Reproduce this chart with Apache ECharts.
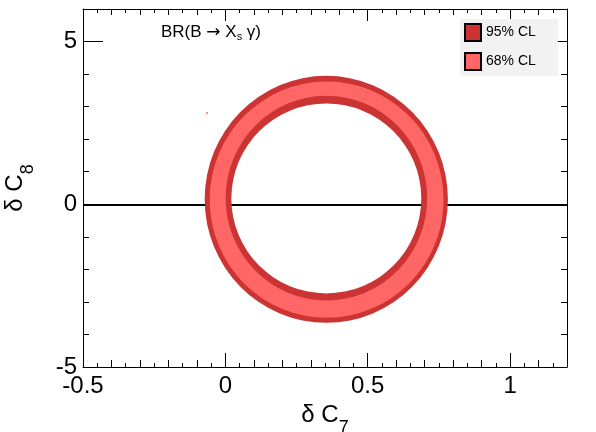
<!DOCTYPE html>
<html>
<head>
<meta charset="utf-8">
<script src="https://cdn.jsdelivr.net/npm/echarts@6/dist/echarts.min.js"></script>
<style>html,body{margin:0;padding:0;background:#fff}#c{width:596px;height:432px}</style>
</head>
<body>
<div id="c"></div>
<script>
// ---- data ----
const clLevels = ['95% CL', '68% CL'];
// outer boundary ellipse of each CL region (centre and half-axes, data units)
const outerCX = [0.3545, 0.3557];
const outerCY = [0.152, 0.142];
const outerRX = [0.4272, 0.4108];
const outerRY = [3.795, 3.631];
// inner boundary ellipse of each CL region
const innerCX = [0.3546, 0.3550];
const innerCY = [0.179, 0.189];
const innerRX = [0.3336, 0.3540];
const innerRY = [2.917, 3.143];
// isolated stray point
const strayX = [-0.0646];
const strayY = [2.80];
// reference line
const refLineY = [0];
// tick labels
const xTickLabels = [-0.5, 0, 0.5, 1];
const yTickLabels = [-5, 0, 5];

const FONT = "'Liberation Sans', Arial, Helvetica, sans-serif";
const chart = echarts.init(document.getElementById('c'), null, {renderer: 'canvas'});

function ringItem(params, api) {
  const c1 = api.coord([api.value(0), api.value(1)]);
  const s1 = api.size([api.value(2), api.value(3)]);
  const c2 = api.coord([api.value(4), api.value(5)]);
  const s2 = api.size([api.value(6), api.value(7)]);
  const ell = (c, s, sweep) => {
    const rx = s[0], ry = s[1];
    return 'M' + (c[0] - rx) + ' ' + c[1] +
      'A' + rx + ' ' + ry + ' 0 1 ' + sweep + ' ' + (c[0] + rx) + ' ' + c[1] +
      'A' + rx + ' ' + ry + ' 0 1 ' + sweep + ' ' + (c[0] - rx) + ' ' + c[1] + 'Z';
  };
  return {
    type: 'path',
    shape: {pathData: ell(c1, s1, 1) + ell(c2, s2, 0)},
    style: {fill: api.visual('color')}
  };
}

const ringData = clLevels.map((n, i) => [[outerCX[i], outerCY[i], outerRX[i], outerRY[i], innerCX[i], innerCY[i], innerRX[i], innerRY[i]]]);
const bandColors = ['#cc3333', '#ff6666'];

function near(v, arr) { return arr.some(a => Math.abs(a - v) < 1e-9); }

function xAx(pos, interval, len, main) {
  return {
    type: 'value', position: pos, min: -0.5, max: 1.2, interval: interval,
    axisLine: {show: main, onZero: false, lineStyle: {color: '#000', width: 1}},
    axisTick: {show: true, inside: true, length: len, lineStyle: {color: '#000', width: 1}},
    axisLabel: {show: main && pos === 'bottom', fontSize: 24, color: '#000', fontFamily: FONT, margin: 7,
      showMinLabel: true, showMaxLabel: true,
      formatter: v => near(v, xTickLabels) ? String(v) : ''},
    splitLine: {show: false},
    name: (main && pos === 'bottom') ? '{a|δ C}{s|7}' : '',
    nameLocation: 'middle', nameGap: 23,
    nameTextStyle: {rich: {
      a: {fontSize: 24, fontFamily: FONT, color: '#000', lineHeight: 44, verticalAlign: 'middle'},
      s: {fontSize: 18, fontFamily: FONT, color: '#000', lineHeight: 18, verticalAlign: 'bottom'}
    }}
  };
}
function yAx(pos, interval, len, main) {
  return {
    type: 'value', position: pos, min: -5, max: 6, interval: interval,
    axisLine: {show: main, onZero: false, lineStyle: {color: '#000', width: 1}},
    axisTick: {show: true, inside: true, length: len, lineStyle: {color: '#000', width: 1}},
    axisLabel: {show: main && pos === 'left', fontSize: 24, color: '#000', fontFamily: FONT, margin: 6,
      padding: [11, 0, 0, 0],
      showMinLabel: true, showMaxLabel: true,
      formatter: v => near(v, yTickLabels) ? String(v) : ''},
    splitLine: {show: false},
    name: (main && pos === 'left') ? '{a|δ C}{s|8}' : '',
    nameLocation: 'middle', nameGap: 46, nameRotate: 90,
    nameTextStyle: {rich: {
      a: {fontSize: 24, fontFamily: FONT, color: '#000', lineHeight: 44, verticalAlign: 'middle'},
      s: {fontSize: 18, fontFamily: FONT, color: '#000', lineHeight: 18, verticalAlign: 'bottom'}
    }}
  };
}

const option = {
  animation: false,
  backgroundColor: '#fff',
  grid: {left: 83, right: 29, top: 9, bottom: 65, containLabel: false, outerBoundsMode: 'none'},
  title: {
    text: '{n|BR(B }{r|→}{n| X}{s|s}{n| γ)}',
    left: 161, top: 23, padding: 0,
    textStyle: {fontWeight: 'normal', rich: {
      n: {fontSize: 17, fontFamily: FONT, fontWeight: 'normal', color: '#000', lineHeight: 19, verticalAlign: 'middle'},
      r: {fontSize: 17, fontFamily: "'DejaVu Sans', sans-serif", fontWeight: 'normal', color: '#000', lineHeight: 19, verticalAlign: 'middle'},
      s: {fontSize: 11, fontFamily: FONT, fontWeight: 'normal', color: '#000', lineHeight: 11, verticalAlign: 'bottom'}
    }}
  },
  legend: {
    data: clLevels, orient: 'vertical', left: 460, top: 19,
    itemWidth: 16, itemHeight: 17, itemGap: 10,
    padding: [4, 22, 5, 4], backgroundColor: '#f2f2f2',
    icon: 'rect', selectedMode: false,
    itemStyle: {borderColor: '#000', borderWidth: 2},
    textStyle: {fontSize: 14, color: '#000', fontFamily: FONT}
  },
  xAxis: [
    xAx('bottom', 0.5, 14, true), xAx('bottom', 0.1, 7, false), xAx('bottom', 0.05, 4, false),
    xAx('top', 0.5, 12, true), xAx('top', 0.1, 6, false), xAx('top', 0.05, 4, false)
  ],
  yAxis: [
    yAx('left', 5, 20, true), yAx('left', 1, 6, false),
    yAx('right', 5, 20, true), yAx('right', 1, 6, false)
  ],
  series: [
    {
      type: 'line', name: 'ref', data: [], z: 1, silent: true,
      markLine: {
        z: 1, silent: true, symbol: ['none', 'none'], label: {show: false},
        lineStyle: {color: '#000', width: 2, type: 'solid'},
        emphasis: {disabled: true},
        data: refLineY.map(v => ({yAxis: v}))
      }
    },
    ...clLevels.map((n, i) => ({
      type: 'custom', name: n, z: 10 + i, silent: true,
      xAxisIndex: 0, yAxisIndex: 0,
      itemStyle: {color: bandColors[i]},
      renderItem: ringItem,
      data: ringData[i]
    })),
    {
      type: 'scatter', name: 'stray', z: 12, silent: true, symbol: 'rect', symbolSize: 2,
      itemStyle: {color: '#ff6666'},
      data: strayX.map((x, i) => [x, strayY[i]])
    }
  ]
};
chart.setOption(option);
</script>
</body>
</html>
